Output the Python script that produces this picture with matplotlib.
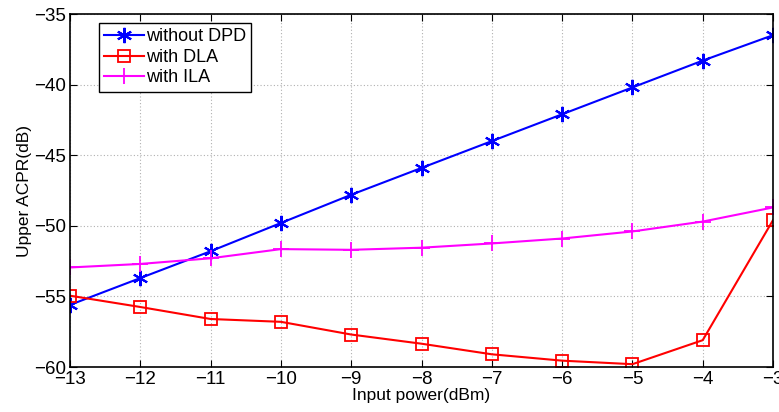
import numpy as np
import matplotlib
matplotlib.use("Agg")
import matplotlib.pyplot as plt

# data
input_power = [-13, -12, -11, -10, -9, -8, -7, -6, -5, -4, -3]
acpr_no_dpd = [-55.6, -53.7, -51.8, -49.8, -47.8, -45.9, -44.0, -42.1, -40.2, -38.3, -36.5]
acpr_dla = [-54.95, -55.75, -56.6, -56.8, -57.7, -58.35, -59.1, -59.55, -59.8, -58.1, -49.6]
acpr_ila = [-52.95, -52.7, -52.3, -51.65, -51.7, -51.55, -51.25, -50.9, -50.4, -49.7, -48.7]

plt.rcParams["font.family"] = ["Liberation Sans", "DejaVu Sans"]

fig = plt.figure(figsize=(7.79, 4.12), dpi=100)
ax = fig.add_axes([0.0899, 0.1092, 0.9024, 0.8568])

# MATLAB-style asterisk marker
ax.plot(input_power, acpr_no_dpd, color="blue", lw=1.5, marker=(6, 2, 0), ms=11,
        mew=1.5, label="without DPD")
ax.plot(input_power, acpr_dla, color="red", lw=1.5, marker="s", ms=9,
        mfc="none", mew=1.3, label="with DLA")
ax.plot(input_power, acpr_ila, color="magenta", lw=1.5, marker="+", ms=12,
        mew=1.3, label="with ILA")

ax.set_xlim(-13, -3)
ax.set_ylim(-60, -35)
ax.set_xticks(np.arange(-13, -2, 1))
ax.set_yticks(np.arange(-60, -34, 5))
ax.set_xticklabels([f"\u2212{abs(v)}" for v in range(-13, -2)])
ax.set_yticklabels([f"\u2212{abs(v)}" for v in range(-60, -34, 5)])
ax.tick_params(direction="in", top=True, right=True, labelsize=13.5, length=5, pad=3)
ax.grid(True, ls=(0, (1, 2)), color="#b0b0b0", lw=0.8)
for s in ax.spines.values():
    s.set_linewidth(1.2)

ax.set_xlabel("Input power(dBm)", fontsize=12.5, labelpad=0)
ax.set_ylabel("Upper ACPR(dB)", fontsize=12.5, labelpad=1)

leg = ax.legend(loc="upper left", bbox_to_anchor=(0.041, 0.975), fontsize=13,
                fancybox=False, edgecolor="black", framealpha=1,
                handlelength=2.2, handletextpad=0.1, borderpad=0.3,
                labelspacing=0.2, borderaxespad=0)
leg.get_frame().set_linewidth(1.0)

fig.savefig("out.png", dpi=100)
